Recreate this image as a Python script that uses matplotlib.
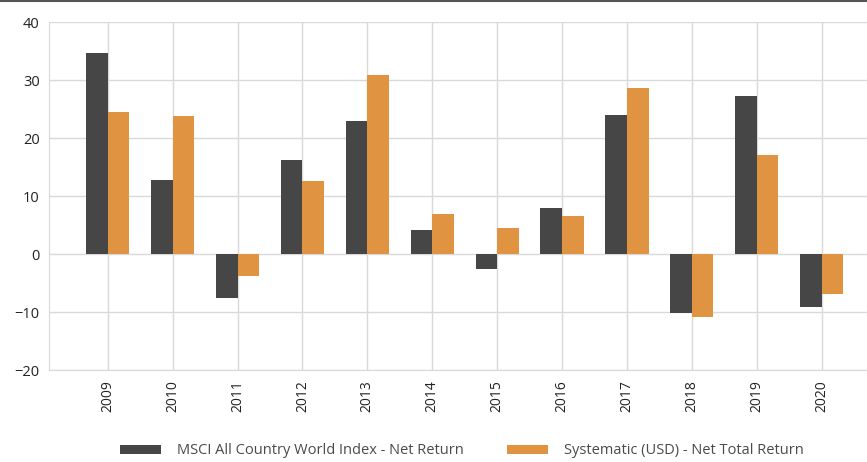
import numpy as np
import matplotlib.pyplot as plt
from matplotlib.lines import Line2D

plt.rcParams["font.family"] = ["Open Sans", "DejaVu Sans"]

years = ["2009", "2010", "2011", "2012", "2013", "2014", "2015", "2016",
         "2017", "2018", "2019", "2020"]
msci = [34.7, 12.7, -7.5, 16.2, 22.9, 4.2, -2.5, 7.9, 24.0, -10.2, 27.3, -9.1]
systematic = [24.5, 23.9, -3.7, 12.6, 30.9, 6.9, 4.5, 6.6, 28.6, -10.9, 17.1, -6.9]

DARK = "#464646"
ORANGE = "#e09442"
GRID = "#d9d9d9"

fig = plt.figure(figsize=(8.67, 4.62), dpi=100)
ax = fig.add_axes([0.057, 0.199, 0.943, 0.753])

x = np.arange(len(years))
w = 1 / 3
ax.bar(x - w / 2, msci, w, color=DARK, label="MSCI All Country World Index - Net Return", zorder=3)
ax.bar(x + w / 2, systematic, w, color=ORANGE, label="Systematic (USD) - Net Total Return", zorder=3)

ax.set_xlim(-0.9, 11.7)
ax.set_ylim(-20, 40)
ax.set_yticks(range(-20, 41, 10))
ax.set_xticks(x)
ax.set_xticklabels(years, rotation=90, fontsize=10, color="#222222")
ax.tick_params(axis="y", labelsize=10.5, colors="#222222", length=0, pad=7)
ax.tick_params(axis="x", length=0, pad=7)
ax.grid(True, color=GRID, linewidth=1, zorder=0)
ax.set_axisbelow(True)

for side in ["top", "right"]:
    ax.spines[side].set_visible(False)
ax.spines["left"].set_color(GRID)
ax.spines["bottom"].set_color(GRID)

fig.add_artist(Line2D([0, 1], [0.998, 0.998], color="#555555", linewidth=1.5,
                      transform=fig.transFigure))

fig.legend(loc="center", bbox_to_anchor=(0.533, 0.024), ncol=2, frameon=False,
           fontsize=10.5, handlelength=2.8, handleheight=0.6, columnspacing=3.0,
           handletextpad=1.1, labelcolor="#4a4a4a", borderpad=0)

fig.savefig("out.png", dpi=100)
